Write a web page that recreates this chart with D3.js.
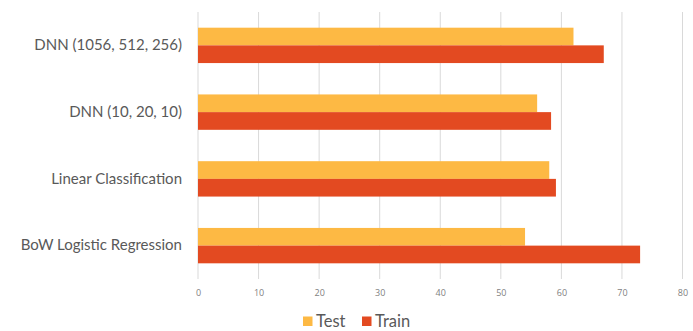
<!DOCTYPE html>
<html><head><meta charset="utf-8">
<script src="https://cdn.jsdelivr.net/npm/d3@7"></script>
<style>body{margin:0;background:#fff}svg{display:block}text{font-family:"Open Sans",sans-serif}</style>
</head><body>
<svg id="c" width="693" height="331"></svg>
<script>
const categories = ["DNN (1056, 512, 256)", "DNN (10, 20, 10)", "Linear Classification", "BoW Logistic Regression"];
const seriesNames = ["Test", "Train"];
const testValues = [62, 56, 58, 54];
const trainValues = [67, 58.3, 59.1, 73];
const xTicks = [0, 10, 20, 30, 40, 50, 60, 70, 80];
const colors = ["#FDB944", "#E34A21"];

const svg = d3.select("#c");
const x = d3.scaleLinear().domain([0, 80]).range([198, 682.5]);
const y = d3.scaleBand().domain(categories).range([12, 279]).paddingInner(0.47).paddingOuter(0.235);
const inner = d3.scaleBand().domain(seriesNames).range([0, y.bandwidth()]);

svg.append("g").selectAll("line").data(xTicks).join("line")
  .attr("x1", d => x(d)).attr("x2", d => x(d)).attr("y1", 12).attr("y2", 279)
  .attr("stroke", "#d9d9d9").attr("stroke-width", 1);

const data = categories.map((c, i) => ({c, vals: [testValues[i], trainValues[i]]}));
const g = svg.append("g").selectAll("g").data(data).join("g")
  .attr("transform", d => `translate(0,${y(d.c)})`);
g.selectAll("rect").data(d => d.vals.map((v, j) => ({v, s: seriesNames[j], j})))
  .join("rect")
  .attr("x", x(0)).attr("y", d => inner(d.s))
  .attr("width", d => x(d.v) - x(0)).attr("height", inner.bandwidth())
  .attr("fill", d => colors[d.j]);

const xAxis = d3.axisBottom(x).tickValues(xTicks).tickSize(0).tickPadding(0);
const ax = svg.append("g").attr("transform", "translate(0,290)").call(xAxis);
ax.select(".domain").remove();
ax.selectAll("text").attr("fill", "#7f7f7f").style("font-size", "9px").attr("dy", "0.71em");

const yAxis = d3.axisLeft(y).tickSize(0).tickPadding(0);
const ay = svg.append("g").attr("transform", "translate(182,0)").call(yAxis);
ay.select(".domain").remove();
ay.selectAll("text").attr("fill", "#595959").style("font-family", "Lato, sans-serif").style("font-size", "15px");

const legend = svg.append("g");
const lx = [303, 362];
seriesNames.forEach((s, i) => {
  legend.append("rect").attr("x", lx[i]).attr("y", 316.5).attr("width", 9.5).attr("height", 9.5).attr("fill", colors[i]);
  legend.append("text").attr("x", lx[i] + 13).attr("y", 321.5).attr("dy", "0.35em")
    .attr("fill", "#595959").style("font-family", "Lato, sans-serif").style("font-size", "16.5px").text(s);
});
</script>
</body></html>
